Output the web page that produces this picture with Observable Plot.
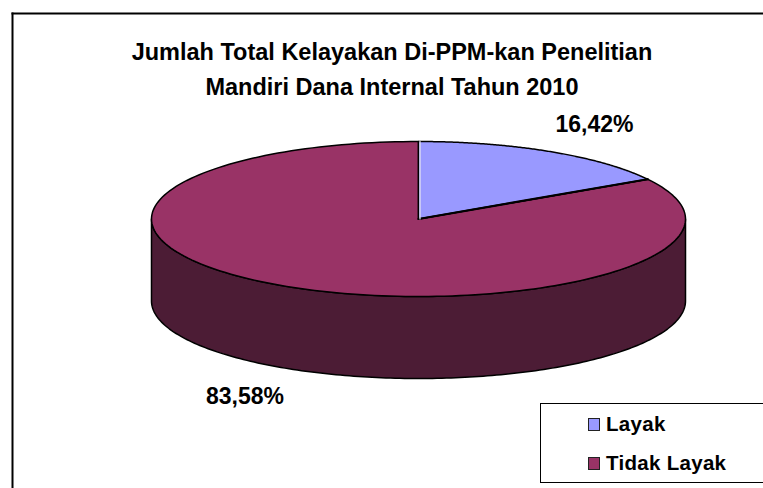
<!DOCTYPE html>
<html><head><meta charset="utf-8">
<script src="https://cdn.jsdelivr.net/npm/d3@7"></script>
<script src="https://cdn.jsdelivr.net/npm/@observablehq/plot@0.6"></script>
<style>
html,body{margin:0;padding:0;background:#fff}
#wrap{position:relative;width:763px;height:488px;overflow:hidden;font-family:"Liberation Sans",Arial,sans-serif;font-weight:700;color:#000}
#wrap svg{display:block;position:absolute;left:0;top:0;background:transparent}
.t{position:absolute;left:0;width:784px;text-align:center;font-size:23.5px;line-height:35px;white-space:nowrap}
#legend{position:absolute;left:540px;top:403px;width:240px;height:80px;border:1.5px solid #000;box-sizing:border-box;background:#fff;font-size:20.5px}
.li{position:absolute;left:47px;display:flex;align-items:center;height:24px;letter-spacing:.3px}
.li i{display:inline-block;width:10px;height:11px;border:1.5px solid #222;margin-right:6px}
</style></head><body>
<div id="wrap">
<div id="plot"></div>
<div class="t" style="top:35px">Jumlah Total Kelayakan Di-PPM-kan Penelitian</div>
<div class="t" style="top:70px">Mandiri Dana Internal Tahun 2010</div>
<div id="legend"></div>
</div>
<script>
const categories = ["Layak", "Tidak Layak"];
const shares = [16.42, 83.58];
const labels = ["16,42%", "83,58%"];
const colors = ["#9999ff", "#993366"];
const sideColor = "#4c1c35";

const W = 763, H = 488, mL = 12, mT = 13;
const cx = 418, cy = 218.5, rx = 267, ry = 77.5, depth = 82 / ry;

// start at 12 o'clock, clockwise; unit circle squashed by the scales
const pt = (deg, y0 = 0) => {
  const a = deg * Math.PI / 180;
  return {x: Math.sin(a), y: Math.cos(a) + y0};
};
const arc = (d0, d1, y0 = 0) => d3.range(0, 181).map(i => pt(d0 + (d1 - d0) * i / 180, y0));
const split = shares[0] / 100 * 360;
const center = {x: 0, y: 0};
const layak = [center, ...arc(0, split)];
const tidak = [center, ...arc(split, 360)];
const side = [...arc(90, 270), ...arc(270, 90, -depth)];
const labelPos = [
  {text: labels[0], dx: 594, dy: 115},
  {text: labels[1], dx: 244.5, dy: 387}
];

const chart = Plot.plot({
  width: W, height: H,
  marginLeft: mL, marginTop: mT, marginRight: 0, marginBottom: 0,
  x: {domain: [(mL - cx) / rx, (W - cx) / rx], axis: null},
  y: {domain: [(cy - H) / ry, (cy - mT) / ry], axis: null},
  style: {background: "transparent"},
  marks: [
    Plot.frame({anchor: "left", stroke: "#000", strokeWidth: 2}),
    Plot.frame({anchor: "top", stroke: "#000", strokeWidth: 2}),
    Plot.line(side, {x: "x", y: "y", curve: "linear-closed", fill: sideColor, stroke: "#000", strokeWidth: 1.5}),
    Plot.line(tidak, {x: "x", y: "y", curve: "linear-closed", fill: colors[1], stroke: "#000", strokeWidth: 1.5}),
    Plot.line(layak, {x: "x", y: "y", curve: "linear-closed", fill: colors[0], stroke: "#000", strokeWidth: 1.5}),
    Plot.line([center, pt(split)], {x: "x", y: "y", stroke: "#000", strokeWidth: 2.2}),
    Plot.line([center, pt(0)], {x: "x", y: "y", stroke: "#e8e8f0", strokeWidth: 1.2, dx: 1.5}),
    ...labelPos.map(l => Plot.text([l.text], {
      text: d => d, frameAnchor: "top-left", dx: l.dx - mL, dy: l.dy - mT,
      fontFamily: "Liberation Sans, Arial, sans-serif", fontWeight: 700, fontSize: 23, fill: "#000", textAnchor: "middle"
    }))
  ]
});
document.getElementById("plot").appendChild(chart);

const legend = document.getElementById("legend");
categories.forEach((c, i) => {
  const row = document.createElement("div");
  row.className = "li";
  row.style.top = (i === 0 ? 8 : 47) + "px";
  row.innerHTML = `<i style="background:${colors[i]}"></i>${c}`;
  legend.appendChild(row);
});
</script>
</body></html>
